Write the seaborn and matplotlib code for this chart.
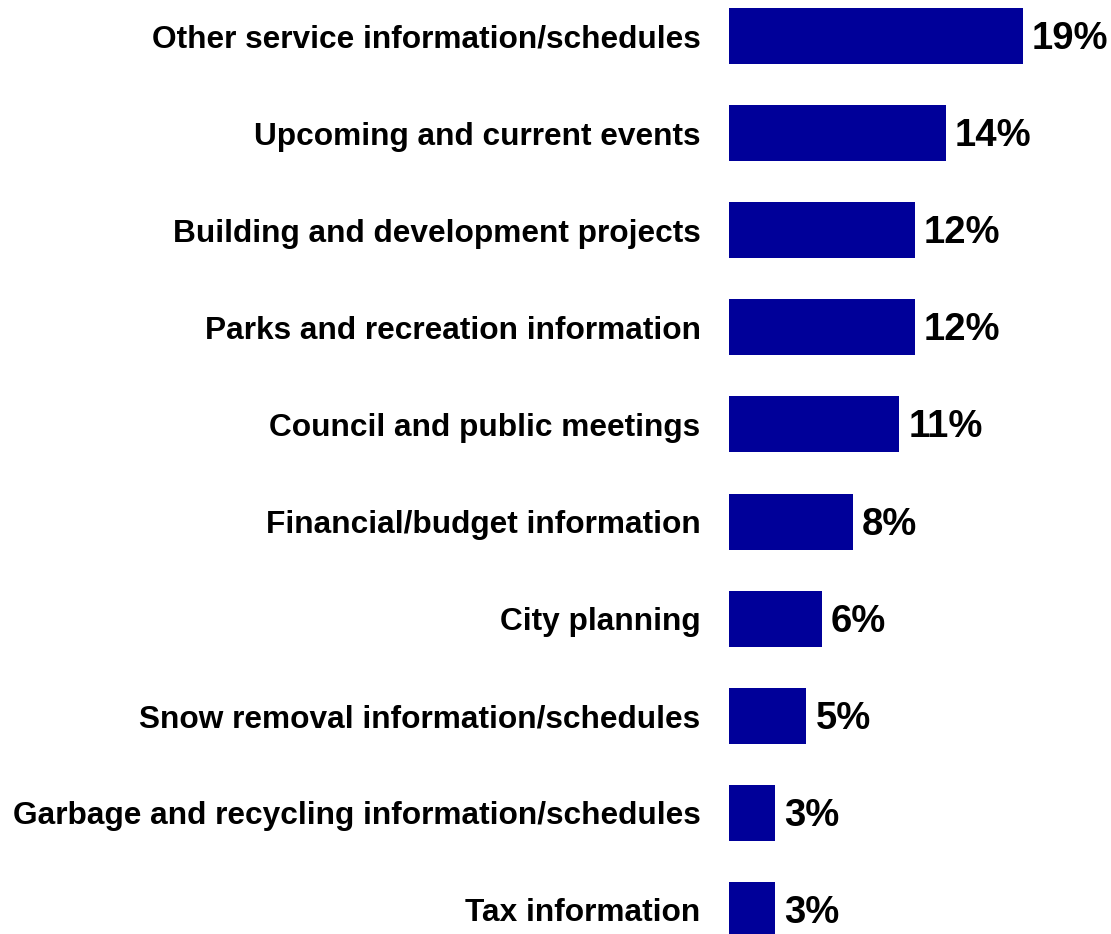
import matplotlib
matplotlib.use("Agg")
import matplotlib.pyplot as plt
import seaborn as sns
import pandas as pd

categories = [
    "Other service information/schedules",
    "Upcoming and current events",
    "Building and development projects",
    "Parks and recreation information",
    "Council and public meetings",
    "Financial/budget information",
    "City planning",
    "Snow removal information/schedules",
    "Garbage and recycling information/schedules",
    "Tax information",
]
values = [19, 14, 12, 12, 11, 8, 6, 5, 3, 3]
value_labels = ["19%", "14%", "12%", "12%", "11%", "8%", "6%", "5%", "3%", "3%"]

df = pd.DataFrame({"topic": categories, "pct": values})

sns.set_theme(style="white")
plt.rcParams["font.family"] = ["Liberation Sans", "DejaVu Sans"]

fig = plt.figure(figsize=(11.11, 9.34), dpi=100)
ax = fig.add_axes([729 / 1111, 0, 1 - 729 / 1111, 1])

sns.barplot(data=df, x="pct", y="topic", orient="h", color="#000099",
            saturation=1, width=0.577, linewidth=0, ax=ax)

px_per_unit = 15.47
ax.set_xlim(0, (1111 - 729) / px_per_unit)
ax.set_ylim(9.248, -0.371)

for i, (v, lab) in enumerate(zip(values, value_labels)):
    ax.annotate(lab, xy=(v, i), xytext=(6.5, -9.4), textcoords="offset points",
                ha="left", va="baseline", fontsize=27.5, fontweight="bold",
                color="black")

ax.set_xlabel("")
ax.set_ylabel("")
ax.set_xticks([])
ax.tick_params(axis="y", length=0, pad=20.5)
for t in ax.get_yticklabels():
    t.set_fontsize(22.8)
    t.set_fontweight("bold")
    t.set_color("black")
for s in ax.spines.values():
    s.set_visible(False)

fig.savefig("out.png", dpi=100)
